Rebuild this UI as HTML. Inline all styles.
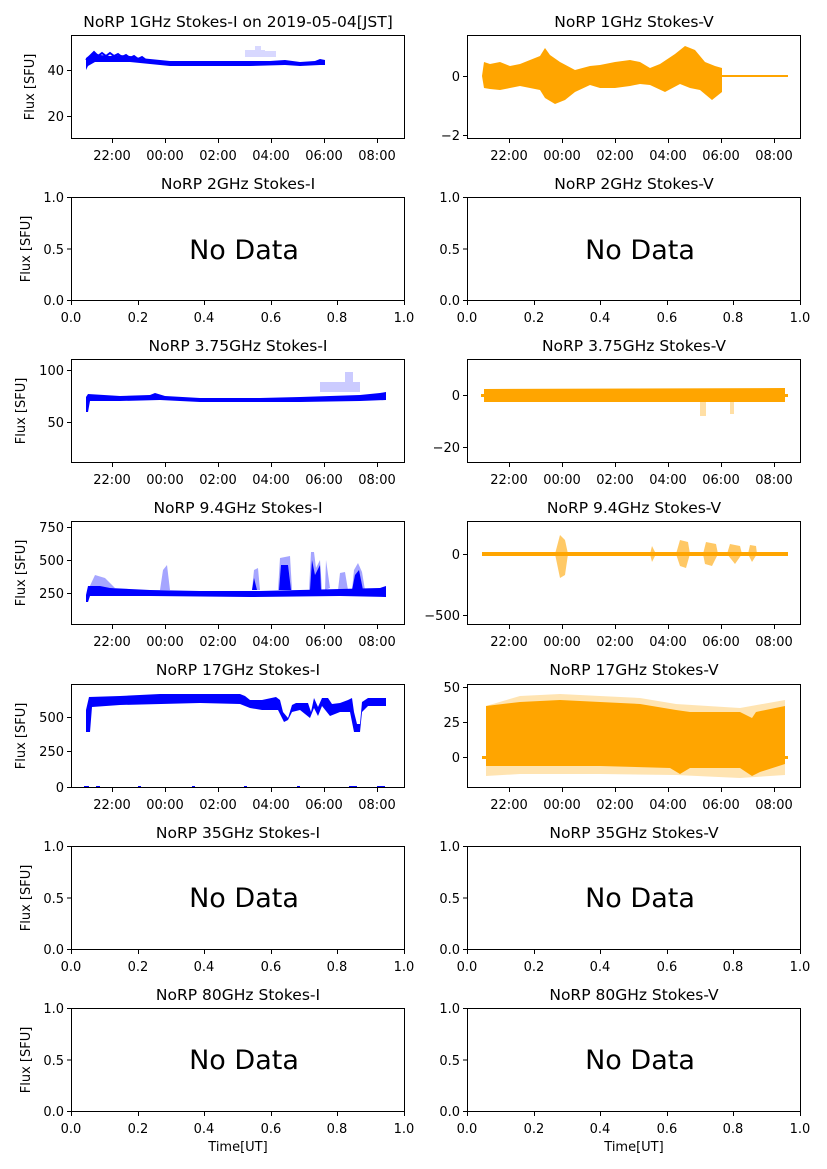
<!DOCTYPE html>
<html><head><meta charset="utf-8"><style>
body{margin:0;background:#fff}
svg{display:block}
text{font-family:"DejaVu Sans","Liberation Sans",sans-serif;fill:#000}
.t{font-size:15.5px;text-anchor:middle}
.k{font-size:13px}
.xl{text-anchor:middle}
.yl{text-anchor:end}
.nd{font-size:27px;text-anchor:middle}
.ax{fill:none;stroke:#000;stroke-width:1}
</style></head><body>
<svg width="827" height="1169" viewBox="0 0 827 1169">

<!-- ROW 1 -->
<text class="t" x="238" y="27">NoRP 1GHz Stokes-I on 2019-05-04[JST]</text>
<text class="t" x="634" y="27">NoRP 1GHz Stokes-V</text>
<path d="M86,58 L90,55 L95,53 L100,55 L110,56 L120,55 L130,56 L140,58 L150,59 L160,60 L170,61 L200,61 L240,61 L270,61 L285,60 L300,62 L315,61 L320,59 L325,60 L325,65 L320,65 L300,66 L285,65 L250,66 L200,66 L170,66 L160,65 L150,64 L130,62 L110,62 L95,62 L88,66 L86,70 Z" fill="#0000ff"/>
<path d="M86,60 L90,56 L94,52 L98,56 L102,53 L106,56 L110,53 L114,56 L118,54 L122,57 L126,55 L130,58 L134,56 L138,59 L142,57 L146,60" stroke="#0000ff" stroke-width="2" fill="none"/>
<g fill="#0000ff" opacity="0.15"><rect x="245" y="50" width="20" height="7"/><rect x="255" y="46" width="6" height="4"/><rect x="262" y="51" width="14" height="6"/></g>
<path d="M482,76 L484,62 L490,64 L500,62 L510,66 L520,64 L530,60 L540,56 L545,48 L550,55 L560,62 L575,70 L590,66 L600,65 L615,62 L630,60 L640,62 L650,68 L660,64 L675,54 L685,46 L695,50 L705,62 L715,66 L722,68 L722,76 L722,92 L712,100 L700,90 L690,88 L680,84 L665,92 L650,85 L640,84 L630,86 L615,88 L600,88 L590,85 L575,92 L565,100 L555,104 L545,98 L540,90 L530,88 L520,86 L510,88 L500,90 L490,89 L484,88 Z" fill="#ffa500"/>
<rect x="722" y="75" width="66" height="2" fill="#ffa500"/>
<!-- ROW 3 -->
<text class="t" x="238" y="351">NoRP 3.75GHz Stokes-I</text>
<text class="t" x="634" y="351">NoRP 3.75GHz Stokes-V</text>
<path d="M86,397 L88,394 L120,396 L150,395 L155,393 L165,396 L200,398 L260,398 L300,397 L330,396 L360,395 L380,393 L386,392 L386,400 L360,401 L300,402 L250,402 L200,402 L160,400 L120,401 L90,401 L88,412 L86,412 Z" fill="#0000ff"/>
<g fill="#0000ff" opacity="0.2"><rect x="320" y="382" width="40" height="10"/><rect x="345" y="372" width="8" height="10"/></g>
<path d="M484,389 L785,388 L785,402 L484,402 Z" fill="#ffa500"/>
<rect x="481" y="394" width="307" height="3" fill="#ffa500"/>
<g fill="#ffa500" opacity="0.35"><rect x="700" y="402" width="6" height="14"/><rect x="730" y="402" width="4" height="12"/></g>
<!-- ROW 4 -->
<text class="t" x="238" y="513">NoRP 9.4GHz Stokes-I</text>
<text class="t" x="634" y="513">NoRP 9.4GHz Stokes-V</text>
<path d="M86,595 L88,586 L100,586 L110,588 L150,590 L200,591 L260,591 L300,590 L340,589 L380,588 L386,586 L386,597 L340,596 L250,597 L150,596 L90,596 L88,602 L86,602 Z" fill="#0000ff"/>
<g fill="#0000ff" opacity="0.35">
<path d="M88,590 L95,575 L105,578 L115,588 Z"/>
<path d="M160,590 L163,570 L167,565 L170,590 Z"/>
<path d="M252,590 L254,570 L258,568 L260,590 Z"/>
<path d="M278,590 L280,558 L290,556 L292,590 Z"/>
<path d="M309,590 L311,552 L314,552 L316,568 L320,560 L322,590 Z"/>
<path d="M325,590 L326,560 L330,588 Z"/>
<path d="M338,590 L340,573 L345,572 L348,590 Z"/>
<path d="M352,590 L354,570 L358,563 L362,572 L365,590 Z"/>
</g>
<g fill="#0000ff">
<path d="M279,590 L281,565 L288,565 L291,590 Z"/>
<path d="M310,590 L312,560 L315,575 L320,565 L321,590 Z"/>
<path d="M352,590 L355,575 L359,570 L363,590 Z"/>
<path d="M252,590 L254,578 L257,590 Z"/>
</g>
<rect x="482" y="552" width="306" height="4" fill="#ffa500"/>
<g fill="#ffa500" opacity="0.6">
<path d="M555,554 L560,535 L565,540 L568,554 L565,575 L560,578 Z"/>
<path d="M676,554 L680,540 L688,542 L690,554 L686,568 L680,566 Z"/>
<path d="M703,554 L706,542 L716,544 L718,554 L712,566 L705,564 Z"/>
<path d="M727,554 L730,544 L740,546 L742,554 L735,564 Z"/>
<path d="M748,554 L750,545 L756,546 L757,554 L752,562 Z"/>
<path d="M650,554 L652,546 L656,554 L652,562 Z"/>
</g>
<!-- ROW 5 -->
<text class="t" x="238" y="675">NoRP 17GHz Stokes-I</text>
<text class="t" x="634" y="675">NoRP 17GHz Stokes-V</text>
<path d="M89,697 L120,696 L160,694 L200,694 L240,694 L245,696 L250,700 L262,700 L276,697 L280,700 L283,712 L288,718 L292,705 L296,703 L308,703 L311,712 L314,698 L318,707 L322,698 L328,698 L332,704 L340,703 L348,700 L352,698 L354,712 L357,724 L360,724 L362,702 L368,698 L386,698 L386,706 L368,706 L362,712 L360,732 L354,732 L350,712 L340,712 L330,716 L322,706 L318,716 L314,708 L310,718 L300,710 L292,712 L288,720 L284,722 L278,710 L262,710 L250,708 L240,704 L200,703 L120,705 L92,707 L90,732 L86,732 L86,710 Z" fill="#0000ff"/>
<g fill="#0000ff"><rect x="84" y="786" width="5" height="2"/><rect x="96" y="786" width="4" height="2"/><rect x="138" y="786" width="3" height="2"/><rect x="192" y="786" width="3" height="2"/><rect x="244" y="786" width="3" height="2"/><rect x="297" y="786" width="3" height="2"/><rect x="349" y="786" width="8" height="2"/><rect x="377" y="786" width="8" height="2"/></g>
<path d="M486,706 L520,702 L560,700 L600,702 L640,704 L676,710 L690,712 L740,712 L752,718 L756,712 L785,706 L785,764 L760,772 L752,776 L740,768 L690,768 L680,774 L670,768 L600,766 L520,766 L486,766 Z" fill="#ffa500"/>
<path d="M486,706 L520,696 L560,694 L600,696 L640,698 L676,704 L740,708 L785,700 L785,775 L740,778 L676,775 L600,774 L520,774 L486,776 Z" fill="#ffa500" opacity="0.3"/>
<rect x="482" y="756" width="306" height="3" fill="#ffa500"/>

<!-- No Data -->
<text class="nd" x="244" y="259">No Data</text>
<text class="nd" x="640" y="259">No Data</text>
<text class="nd" x="244" y="907">No Data</text>
<text class="nd" x="640" y="907">No Data</text>
<text class="nd" x="244" y="1069">No Data</text>
<text class="nd" x="640" y="1069">No Data</text>
<text class="t" x="238" y="189">NoRP 2GHz Stokes-I</text>
<text class="t" x="634" y="189">NoRP 2GHz Stokes-V</text>
<text class="t" x="238" y="838">NoRP 35GHz Stokes-I</text>
<text class="t" x="634" y="838">NoRP 35GHz Stokes-V</text>
<text class="t" x="238" y="1000">NoRP 80GHz Stokes-I</text>
<text class="t" x="634" y="1000">NoRP 80GHz Stokes-V</text>

<!-- axes frames -->
<g class="ax">
<rect x="71.5" y="35.5" width="333" height="103"/><rect x="467.5" y="35.5" width="333" height="103"/>
<rect x="71.5" y="197.5" width="333" height="103"/><rect x="467.5" y="197.5" width="333" height="103"/>
<rect x="71.5" y="359.5" width="333" height="103"/><rect x="467.5" y="359.5" width="333" height="103"/>
<rect x="71.5" y="521.5" width="333" height="103"/><rect x="467.5" y="521.5" width="333" height="103"/>
<rect x="71.5" y="684.5" width="333" height="103"/><rect x="467.5" y="684.5" width="333" height="103"/>
<rect x="71.5" y="846.5" width="333" height="103"/><rect x="467.5" y="846.5" width="333" height="103"/>
<rect x="71.5" y="1008.5" width="333" height="103"/><rect x="467.5" y="1008.5" width="333" height="103"/>
</g>
<g stroke="#000">
<path d="M112.5,139v4M165.5,139v4M218.5,139v4M271.5,139v4M324.5,139v4M377.5,139v4 M509.5,139v4M562.5,139v4M615.5,139v4M668.5,139v4M721.5,139v4M774.5,139v4
M112.5,463v4M165.5,463v4M218.5,463v4M271.5,463v4M324.5,463v4M377.5,463v4 M509.5,463v4M562.5,463v4M615.5,463v4M668.5,463v4M721.5,463v4M774.5,463v4
M112.5,625v4M165.5,625v4M218.5,625v4M271.5,625v4M324.5,625v4M377.5,625v4 M509.5,625v4M562.5,625v4M615.5,625v4M668.5,625v4M721.5,625v4M774.5,625v4
M112.5,788v4M165.5,788v4M218.5,788v4M271.5,788v4M324.5,788v4M377.5,788v4 M509.5,788v4M562.5,788v4M615.5,788v4M668.5,788v4M721.5,788v4M774.5,788v4"/>
<path d="M71.5,301v4M138.5,301v4M204.5,301v4M271.5,301v4M337.5,301v4M404.5,301v4 M467.5,301v4M534.5,301v4M600.5,301v4M667.5,301v4M733.5,301v4M800.5,301v4
M71.5,950v4M138.5,950v4M204.5,950v4M271.5,950v4M337.5,950v4M404.5,950v4 M467.5,950v4M534.5,950v4M600.5,950v4M667.5,950v4M733.5,950v4M800.5,950v4
M71.5,1112v4M138.5,1112v4M204.5,1112v4M271.5,1112v4M337.5,1112v4M404.5,1112v4 M467.5,1112v4M534.5,1112v4M600.5,1112v4M667.5,1112v4M733.5,1112v4M800.5,1112v4"/>
<path d="M67,70.5h4M67,116.5h4 M463,76.5h4M463,135.5h4
M67,197.5h4M67,249h4M67,300.5h4 M463,197.5h4M463,249h4M463,300.5h4
M67,370.5h4M67,422.5h4 M463,395.5h4M463,447.5h4
M67,527.5h4M67,560.5h4M67,593.5h4 M463,554.5h4M463,615.5h4
M67,717.5h4M67,751.5h4M67,787.5h4 M463,687.5h4M463,722.5h4M463,757.5h4
M67,846.5h4M67,898h4M67,949.5h4 M463,846.5h4M463,898h4M463,949.5h4
M67,1008.5h4M67,1060h4M67,1111.5h4 M463,1008.5h4M463,1060h4M463,1111.5h4"/>
</g>
<g class="k xl">
<text x="112" y="160">22:00</text><text x="165" y="160">00:00</text><text x="218" y="160">02:00</text><text x="271" y="160">04:00</text><text x="324" y="160">06:00</text><text x="377" y="160">08:00</text>
<text x="509" y="160">22:00</text><text x="562" y="160">00:00</text><text x="615" y="160">02:00</text><text x="668" y="160">04:00</text><text x="721" y="160">06:00</text><text x="774" y="160">08:00</text>
<text x="112" y="484">22:00</text><text x="165" y="484">00:00</text><text x="218" y="484">02:00</text><text x="271" y="484">04:00</text><text x="324" y="484">06:00</text><text x="377" y="484">08:00</text>
<text x="509" y="484">22:00</text><text x="562" y="484">00:00</text><text x="615" y="484">02:00</text><text x="668" y="484">04:00</text><text x="721" y="484">06:00</text><text x="774" y="484">08:00</text>
<text x="112" y="646">22:00</text><text x="165" y="646">00:00</text><text x="218" y="646">02:00</text><text x="271" y="646">04:00</text><text x="324" y="646">06:00</text><text x="377" y="646">08:00</text>
<text x="509" y="646">22:00</text><text x="562" y="646">00:00</text><text x="615" y="646">02:00</text><text x="668" y="646">04:00</text><text x="721" y="646">06:00</text><text x="774" y="646">08:00</text>
<text x="112" y="809">22:00</text><text x="165" y="809">00:00</text><text x="218" y="809">02:00</text><text x="271" y="809">04:00</text><text x="324" y="809">06:00</text><text x="377" y="809">08:00</text>
<text x="509" y="809">22:00</text><text x="562" y="809">00:00</text><text x="615" y="809">02:00</text><text x="668" y="809">04:00</text><text x="721" y="809">06:00</text><text x="774" y="809">08:00</text>
<text x="71" y="322">0.0</text><text x="138" y="322">0.2</text><text x="204" y="322">0.4</text><text x="271" y="322">0.6</text><text x="337" y="322">0.8</text><text x="404" y="322">1.0</text>
<text x="467" y="322">0.0</text><text x="534" y="322">0.2</text><text x="600" y="322">0.4</text><text x="667" y="322">0.6</text><text x="733" y="322">0.8</text><text x="800" y="322">1.0</text>
<text x="71" y="971">0.0</text><text x="138" y="971">0.2</text><text x="204" y="971">0.4</text><text x="271" y="971">0.6</text><text x="337" y="971">0.8</text><text x="404" y="971">1.0</text>
<text x="467" y="971">0.0</text><text x="534" y="971">0.2</text><text x="600" y="971">0.4</text><text x="667" y="971">0.6</text><text x="733" y="971">0.8</text><text x="800" y="971">1.0</text>
<text x="71" y="1133">0.0</text><text x="138" y="1133">0.2</text><text x="204" y="1133">0.4</text><text x="271" y="1133">0.6</text><text x="337" y="1133">0.8</text><text x="404" y="1133">1.0</text>
<text x="467" y="1133">0.0</text><text x="534" y="1133">0.2</text><text x="600" y="1133">0.4</text><text x="667" y="1133">0.6</text><text x="733" y="1133">0.8</text><text x="800" y="1133">1.0</text>
<text x="238" y="1151">Time[UT]</text><text x="634" y="1151">Time[UT]</text>
</g>
<g class="k yl">
<text x="64" y="75">40</text><text x="64" y="121">20</text>
<text x="460" y="81">0</text><text x="460" y="140">−2</text>
<text x="64" y="202">1.0</text><text x="64" y="254">0.5</text><text x="64" y="305">0.0</text>
<text x="460" y="202">1.0</text><text x="460" y="254">0.5</text><text x="460" y="305">0.0</text>
<text x="64" y="375">100</text><text x="64" y="427">50</text>
<text x="460" y="400">0</text><text x="460" y="452">−20</text>
<text x="64" y="532">750</text><text x="64" y="565">500</text><text x="64" y="598">250</text>
<text x="460" y="559">0</text><text x="460" y="620">−500</text>
<text x="64" y="722">500</text><text x="64" y="756">250</text><text x="64" y="792">0</text>
<text x="460" y="692">50</text><text x="460" y="727">25</text><text x="460" y="762">0</text>
<text x="64" y="851">1.0</text><text x="64" y="903">0.5</text><text x="64" y="954">0.0</text>
<text x="460" y="851">1.0</text><text x="460" y="903">0.5</text><text x="460" y="954">0.0</text>
<text x="64" y="1013">1.0</text><text x="64" y="1065">0.5</text><text x="64" y="1116">0.0</text>
<text x="460" y="1013">1.0</text><text x="460" y="1065">0.5</text><text x="460" y="1116">0.0</text>
</g>
<g class="k" text-anchor="middle">
<text transform="translate(34,87) rotate(-90)">Flux [SFU]</text>
<text transform="translate(30,249) rotate(-90)">Flux [SFU]</text>
<text transform="translate(25,411) rotate(-90)">Flux [SFU]</text>
<text transform="translate(25,573) rotate(-90)">Flux [SFU]</text>
<text transform="translate(25,736) rotate(-90)">Flux [SFU]</text>
<text transform="translate(30,898) rotate(-90)">Flux [SFU]</text>
<text transform="translate(30,1060) rotate(-90)">Flux [SFU]</text>
</g>
</svg>
</body></html>
